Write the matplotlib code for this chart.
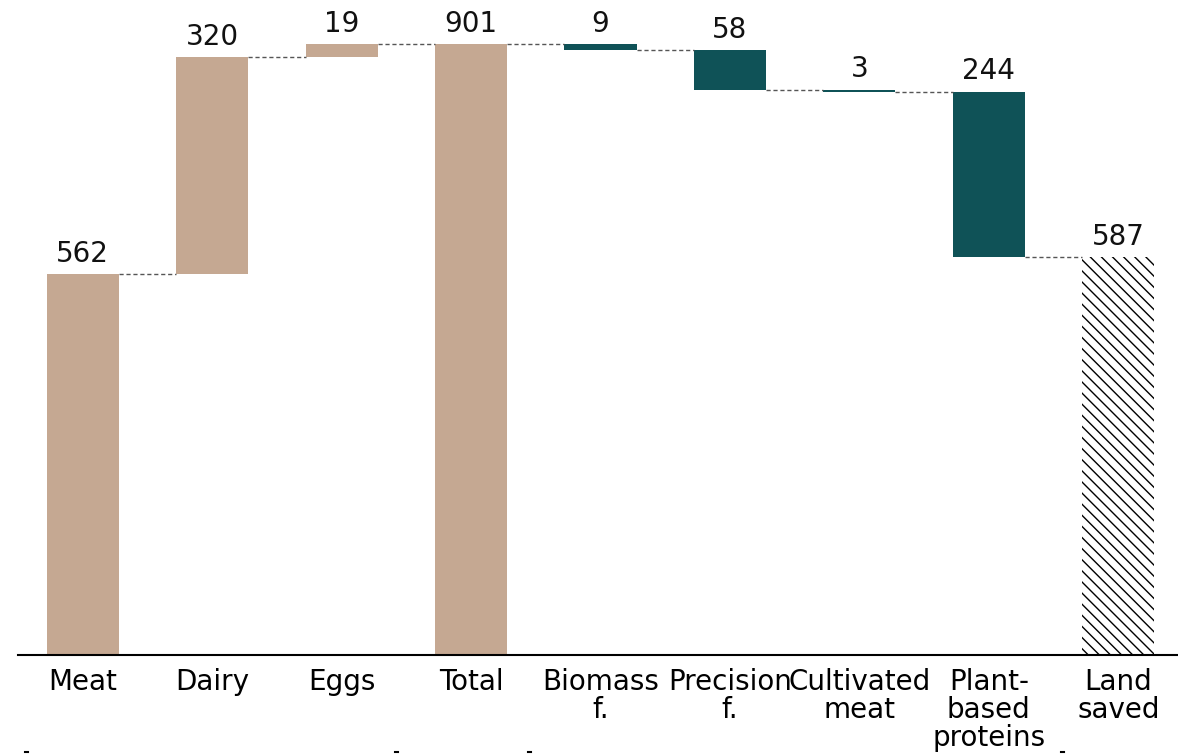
import matplotlib
matplotlib.use("Agg")
import matplotlib.pyplot as plt
from matplotlib.lines import Line2D

categories = ["Meat", "Dairy", "Eggs", "Total", "Biomass\nf.", "Precision\nf.",
              "Cultivated\nmeat", "Plant-\nbased\nproteins", "Land\nsaved"]
values = [562, 320, 19, 901, -9, -58, -3, -244, 587]
kinds = ["up", "up", "up", "total", "down", "down", "down", "down", "result"]

TAN = "#C5A892"
TEAL = "#0F5257"

plt.rcParams["font.family"] = ["DejaVu Sans"]
plt.rcParams["hatch.linewidth"] = 1.0

fig = plt.figure(figsize=(11.78, 7.54), dpi=100)
ax = fig.add_axes([18/1178, 99/754, 1165/1178, 655/754])
ax.set_xlim(-0.5, 8.5)
ax.set_ylim(0, 966)

width = 0.557
running = 0
tops = []
for i, (v, k) in enumerate(zip(values, kinds)):
    if k == "up":
        bottom, height = running, v
        running += v
        color = TAN
        top = running
    elif k == "total":
        bottom, height = 0, v
        running = v
        color = TAN
        top = v
    elif k == "down":
        bottom, height = running + v, -v
        top = running
        running += v
        color = TEAL
    else:
        bottom, height = 0, v
        top = v
        color = None
    if k == "result":
        ax.bar(i, height, bottom=bottom, width=width, color="white",
               edgecolor="black", hatch="\\\\\\", linewidth=0)
    else:
        ax.bar(i, height, bottom=bottom, width=width, color=color, linewidth=0)
    ax.text(i, top + 9, f"{abs(v)}", ha="center", va="bottom", fontsize=20, color="#111111")
    tops.append(running)

# connectors
for i in range(len(values) - 1):
    level = tops[i]
    ax.plot([i + width/2, i + 1 - width/2], [level, level], color="#555555",
            lw=1, ls=(0, (3, 2)))

ax.set_xticks(range(len(categories)))
ax.set_xticklabels(categories, fontsize=20, linespacing=1.0)
ax.tick_params(axis="x", length=0, pad=9)
ax.set_yticks([])
for s in ["top", "right", "left"]:
    ax.spines[s].set_visible(False)
ax.spines["bottom"].set_linewidth(1.5)

# small clipped marks at the bottom edge
for xp in [25, 395, 528, 1061]:
    fig.add_artist(Line2D([xp/1178, (xp + 3)/1178], [2/754, 2/754],
                          color="black", lw=1.5, transform=fig.transFigure))

fig.savefig("out.png", dpi=100)
